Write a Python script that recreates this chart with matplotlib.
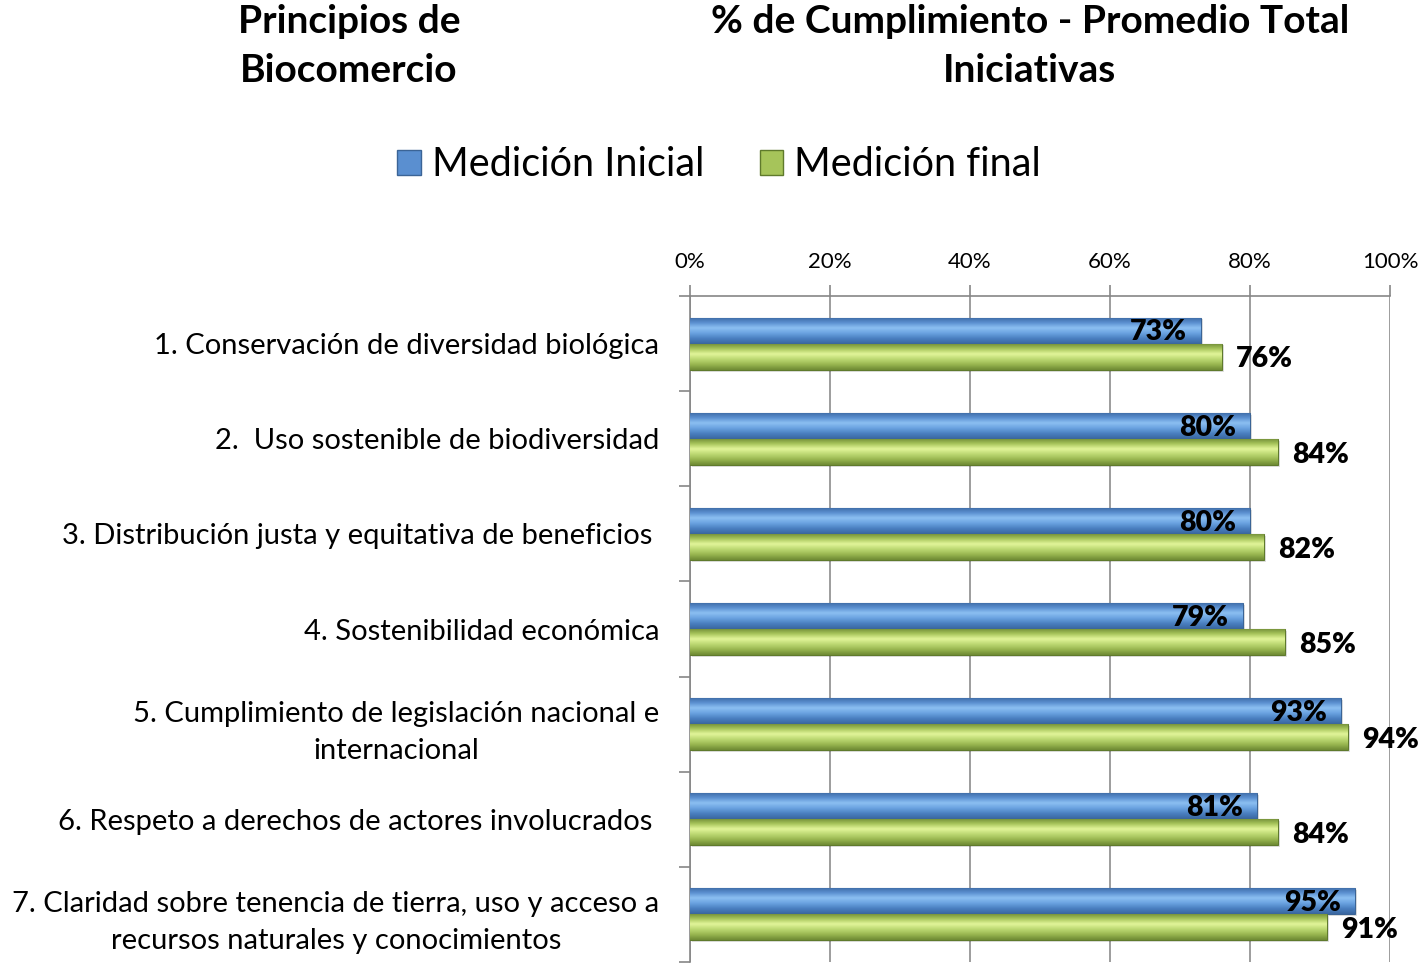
import matplotlib
matplotlib.use("Agg")
import matplotlib.pyplot as plt
import numpy as np
from matplotlib.patches import Patch
from matplotlib.colors import LinearSegmentedColormap

categories = [
    "1. Conservación de diversidad biológica",
    "2.  Uso sostenible de biodiversidad",
    "3. Distribución justa y equitativa de beneficios ",
    "4. Sostenibilidad económica",
    "5. Cumplimiento de legislación nacional e\ninternacional",
    "6. Respeto a derechos de actores involucrados ",
    "7. Claridad sobre tenencia de tierra, uso y acceso a\nrecursos naturales y conocimientos",
]
inicial = [73, 80, 80, 79, 93, 81, 95]
final = [76, 84, 82, 85, 94, 84, 91]
series_names = ["Medición Inicial", "Medición final"]
xticks = [0, 20, 40, 60, 80, 100]
xticklabels = ["0%", "20%", "40%", "60%", "80%", "100%"]

plt.rcParams['font.family'] = ['Lato', 'DejaVu Sans']

W, H = 1418, 965
fig = plt.figure(figsize=(W / 100, H / 100), dpi=100)
ax = fig.add_axes([690 / W, 1 - 962 / H, 700 / W, 666 / H])

blue_cmap = LinearSegmentedColormap.from_list(
    "b", ["#3d6aa3", "#5a8fd0", "#8cc0f2", "#6aa2e0", "#4a7fc0", "#3a67a0"])
green_cmap = LinearSegmentedColormap.from_list(
    "g", ["#6f8b36", "#a6c45a", "#e2f59a", "#bcd872", "#98b650", "#6e8a34"])

h = 0.274
y = np.arange(len(categories))
grad = np.linspace(0, 1, 64).reshape(-1, 1)

def gradient_bars(vals, offset, cmap, edge):
    bars = ax.barh(y + offset, vals, height=h, color="none",
                   edgecolor=edge, linewidth=0.8, zorder=3)
    for b in bars:
        x0, y0 = b.get_x(), b.get_y()
        w, hh = b.get_width(), b.get_height()
        ax.barh(y0 + hh / 2 + 0.02, w, height=hh, left=x0 + 0.25,
                color="#000000", alpha=0.12, linewidth=0, zorder=2)
        im = ax.imshow(grad, cmap=cmap, aspect="auto",
                       extent=[x0, x0 + w, y0 + hh, y0], zorder=3,
                       interpolation="bicubic")
        im.set_clip_path(b)
    return bars

gradient_bars(inicial, -h / 2, blue_cmap, "#3b6496")
gradient_bars(final, h / 2, green_cmap, "#5f7a2c")

for i, (a, b) in enumerate(zip(inicial, final)):
    ax.text(a - 2.0, i - h / 2 + 0.02, f"{a}%", ha="right", va="center",
            fontsize=20.5, fontweight="heavy", color="black", zorder=5)
    ax.text(b + 2.0, i + h / 2 + 0.03, f"{b}%", ha="left", va="center",
            fontsize=20.5, fontweight="heavy", color="black", zorder=5,
            clip_on=False)

ax.set_xlim(0, 100)
ax.set_ylim(len(categories) - 0.5, -0.5)
ax.xaxis.tick_top()
ax.set_xticks(xticks)
ax.set_xticklabels(xticklabels, fontsize=16)
ax.tick_params(axis="x", length=8, width=1.2, color="#868686", pad=9)
ax.grid(axis="x", color="#8c8c8c", linewidth=1.2, zorder=0)
ax.set_axisbelow(True)

ax.set_yticks(y)
ax.set_yticklabels(categories, fontsize=21, multialignment="center",
                   linespacing=1.55)
ax.tick_params(axis="y", length=0, pad=22)
ax.set_yticks(np.arange(len(categories) + 1) - 0.5, minor=True)
ax.tick_params(axis="y", which="minor", length=8, width=1.2, color="#868686")

for s in ["right", "bottom"]:
    ax.spines[s].set_visible(False)
for s in ["top", "left"]:
    ax.spines[s].set_color("#868686")
    ax.spines[s].set_linewidth(1.2)

fig.text(349 / W, 1 - 46 / H, "Principios de\nBiocomercio", ha="center",
         va="center", fontsize=28, fontweight="bold", linespacing=1.5)
fig.text(1030 / W, 1 - 46 / H, "% de Cumplimiento - Promedio Total\nIniciativas",
         ha="center", va="center", fontsize=28, fontweight="bold", linespacing=1.5)

handles = [Patch(facecolor="#5a8fd0", edgecolor="#3b6496"),
           Patch(facecolor="#a6c45a", edgecolor="#5f7a2c")]
fig.legend(handles, series_names, loc="center", bbox_to_anchor=(719 / W, 1 - 165 / H),
           ncol=2, frameon=False, fontsize=28.5, handlelength=0.6, handleheight=0.6,
           handletextpad=0.28, columnspacing=1.4)

fig.savefig("out.png", dpi=100)
